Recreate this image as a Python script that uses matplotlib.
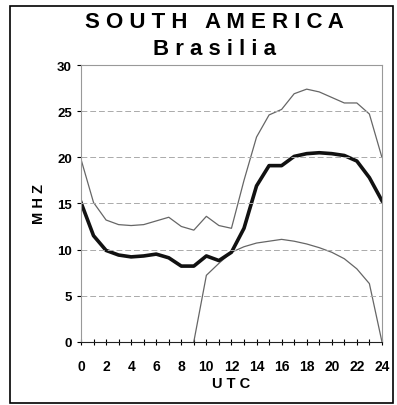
import numpy as np
import matplotlib.pyplot as plt
from matplotlib.patches import Rectangle
from matplotlib.ticker import MultipleLocator

# Hourly frequencies (MHz), 0..24 UTC
hours = list(range(25))
upper = [19.8, 15.1, 13.2, 12.7, 12.6, 12.7, 13.1, 13.5, 12.5, 12.1, 13.6, 12.6, 12.3,
         17.5, 22.2, 24.6, 25.2, 26.9, 27.4, 27.1, 26.5, 25.9, 25.9, 24.7, 20.0]
median = [15.1, 11.5, 9.9, 9.4, 9.2, 9.3, 9.5, 9.1, 8.2, 8.2, 9.3, 8.8, 9.7,
          12.3, 16.9, 19.1, 19.1, 20.1, 20.4, 20.5, 20.4, 20.2, 19.6, 17.8, 15.3]
lower = [np.nan] * 9 + [0.0, 7.2, 8.5, 9.7, 10.3, 10.7, 10.9, 11.1, 10.9, 10.6,
                        10.2, 9.7, 9.0, 7.9, 6.3, 0.0]

title = 'S O U T H   A M E R I C A'
subtitle = 'B r a s i l i a'
xticks = list(range(0, 25, 2))
yticks = list(range(0, 31, 5))

plt.rcParams['font.family'] = ['Liberation Sans', 'DejaVu Sans']
plt.rcParams['font.weight'] = 'bold'

fig = plt.figure(figsize=(3.97, 4.06), dpi=100)
ax = fig.add_axes([0.204, 0.156, 0.758, 0.681])

# border around the whole figure
fig.patches.append(Rectangle((10 / 397, 2 / 406), 383 / 397, 397 / 406,
                             transform=fig.transFigure, fill=False,
                             edgecolor='black', linewidth=1.2))

ax.plot(hours, upper, color='#666666', lw=0.9)
ax.plot(hours, lower, color='#666666', lw=0.9)
ax.plot(hours, median, color='#111111', lw=2.6, solid_joinstyle='round')

ax.set_xlim(0, 24)
ax.set_ylim(0, 30)
ax.set_xticks(xticks)
ax.xaxis.set_minor_locator(MultipleLocator(1))
ax.set_yticks(yticks)
ax.tick_params(axis='x', which='both', direction='inout', length=5, width=0.8,
               labelsize=10, pad=10)
ax.tick_params(axis='y', direction='out', length=3, width=0.8, labelsize=9.5)

for y in yticks[1:-1]:
    ax.axhline(y, color='#aaaaaa', lw=0.7, ls=(0, (6, 3)))

for side in ['left', 'right', 'top']:
    ax.spines[side].set_color('#999999')
    ax.spines[side].set_linewidth(0.8)
ax.spines['bottom'].set_color('#222222')

ax.set_xlabel('U T C', fontsize=10.5, fontweight='bold', labelpad=2)
ax.set_ylabel('M H Z', fontsize=10.5, fontweight='bold', labelpad=8)

fig.text(0.54, 0.945, title, ha='center', va='center', fontsize=16, fontweight='bold')
fig.text(0.54, 0.877, subtitle, ha='center', va='center', fontsize=16, fontweight='bold')

fig.savefig('out.png', dpi=100)
